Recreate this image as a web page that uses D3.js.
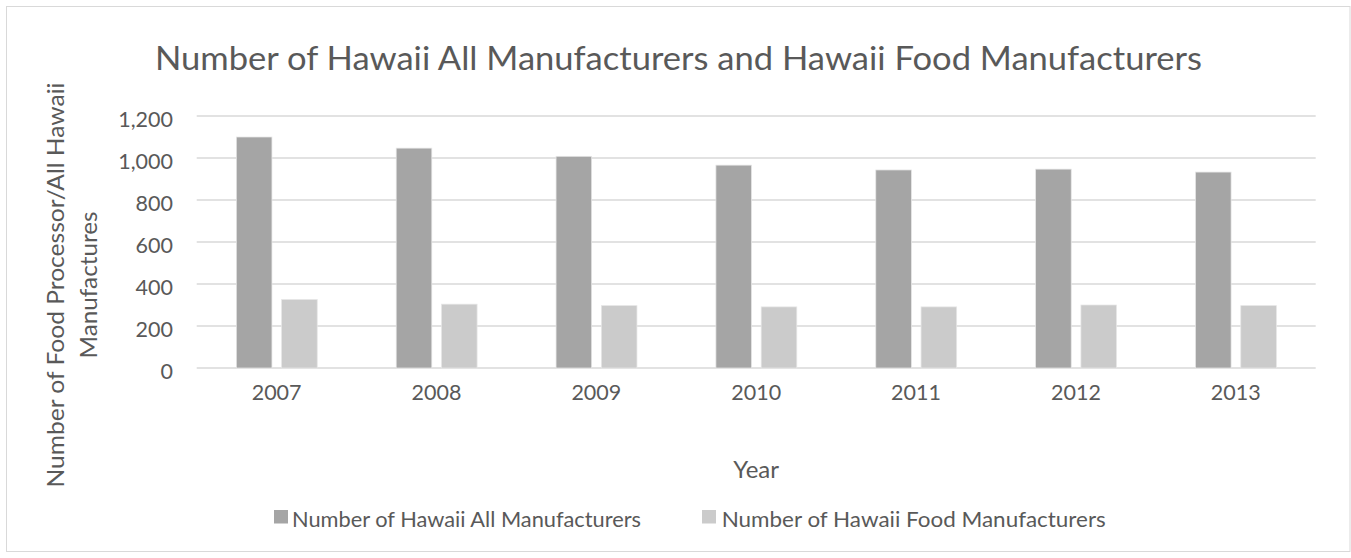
<!DOCTYPE html>
<html>
<head>
<meta charset="utf-8">
<script src="https://cdn.jsdelivr.net/npm/d3@7"></script>
<style>
  html, body { margin: 0; padding: 0; background: #ffffff; }
  svg { display: block; }
  text { font-family: Lato, "Open Sans", sans-serif; fill: #595959; }
</style>
</head>
<body>
<svg id="chart" width="1351" height="558"></svg>
<script>
// Chart data
const years = ["2007", "2008", "2009", "2010", "2011", "2012", "2013"];
const allManufacturers = [1100, 1047, 1008, 966, 943, 947, 933];
const foodManufacturers = [326, 304, 297, 291, 291, 300, 297];
const seriesNames = ["Number of Hawaii All Manufacturers", "Number of Hawaii Food Manufacturers"];
const seriesColors = ["#a5a5a5", "#cbcbcb"];
const yTicks = [0, 200, 400, 600, 800, 1000, 1200];

const titleText = "Number of Hawaii All Manufacturers and Hawaii Food Manufacturers";
const yTitleLines = ["Number of Food Processor/All Hawaii", "Manufactures"];
const xTitleText = "Year";

const svg = d3.select("#chart");

// Chart frame
svg.append("rect")
  .attr("x", 6.5).attr("y", 6.5)
  .attr("width", 1343.5).attr("height", 545)
  .attr("fill", "#ffffff")
  .attr("stroke", "#d9d9d9").attr("stroke-width", 1);

// Plot area
const plot = { left: 196.7, right: 1315.7, top: 116, bottom: 368 };

const x0 = d3.scaleBand().domain(years).range([plot.left, plot.right]).padding(0);
const x1 = d3.scaleBand().domain(seriesNames)
  .range([x0.bandwidth() * 0.248, x0.bandwidth() * 0.754])
  .paddingInner(0.214).paddingOuter(0);
const y = d3.scaleLinear().domain([0, 1200]).range([plot.bottom, plot.top]);

// Gridlines
svg.append("g")
  .selectAll("line")
  .data(yTicks)
  .join("line")
  .attr("x1", plot.left).attr("x2", plot.right)
  .attr("y1", d => y(d)).attr("y2", d => y(d))
  .attr("stroke", "#d9d9d9").attr("stroke-width", 1.5);

// Y tick labels
const fmt = d3.format(",");
svg.append("g")
  .selectAll("text")
  .data(yTicks)
  .join("text")
  .attr("x", 173)
  .attr("y", d => y(d) + 10.5)
  .attr("text-anchor", "end")
  .style("font-size", "21.5px")
  .text(d => fmt(d));

// Bars
const rows = years.map((yr, i) => ({ year: yr, values: [allManufacturers[i], foodManufacturers[i]] }));
const groups = svg.append("g")
  .selectAll("g")
  .data(rows)
  .join("g")
  .attr("transform", d => `translate(${x0(d.year)},0)`);

groups.selectAll("rect")
  .data(d => d.values.map((v, k) => ({ name: seriesNames[k], value: v, color: seriesColors[k] })))
  .join("rect")
  .attr("x", d => x1(d.name))
  .attr("width", x1.bandwidth())
  .attr("y", d => y(d.value))
  .attr("height", d => y(0) - y(d.value))
  .attr("fill", d => d.color)
  .attr("stroke", "#e6e6e6").attr("stroke-width", 0.75);

// X tick labels
svg.append("g")
  .selectAll("text")
  .data(years)
  .join("text")
  .attr("x", d => x0(d) + x0.bandwidth() / 2)
  .attr("y", 400)
  .attr("text-anchor", "middle")
  .style("font-size", "21.5px")
  .text(d => d);

// Title
svg.append("text")
  .attr("x", 678.5).attr("y", 70)
  .attr("text-anchor", "middle")
  .attr("textLength", 1047).attr("lengthAdjust", "spacingAndGlyphs")
  .style("font-size", "33.5px")
  .text(titleText);

// X axis title
svg.append("text")
  .attr("x", (plot.left + plot.right) / 2).attr("y", 478)
  .attr("text-anchor", "middle")
  .style("font-size", "24px")
  .text(xTitleText);

// Y axis title (two lines, rotated)
const yTitleBaselines = [63.5, 96.7];
const yTitleLengths = [405, 147];
svg.append("g")
  .selectAll("text")
  .data(yTitleLines)
  .join("text")
  .attr("transform", (d, i) => `translate(${yTitleBaselines[i]},285) rotate(-90)`)
  .attr("text-anchor", "middle")
  .attr("textLength", (d, i) => yTitleLengths[i]).attr("lengthAdjust", "spacingAndGlyphs")
  .style("font-size", "24px")
  .text(d => d);

// Legend
const legendItems = [
  { name: seriesNames[0], color: seriesColors[0], sx: 274, tx: 292, len: 349 },
  { name: seriesNames[1], color: seriesColors[1], sx: 702, tx: 721.7, len: 384 }
];
const legend = svg.append("g");
legend.selectAll("rect")
  .data(legendItems)
  .join("rect")
  .attr("x", d => d.sx).attr("y", 510)
  .attr("width", 14).attr("height", 13.5)
  .attr("fill", d => d.color);
legend.selectAll("text")
  .data(legendItems)
  .join("text")
  .attr("x", d => d.tx).attr("y", 527)
  .attr("textLength", d => d.len).attr("lengthAdjust", "spacingAndGlyphs")
  .style("font-size", "21.5px")
  .text(d => d.name);
</script>
</body>
</html>
